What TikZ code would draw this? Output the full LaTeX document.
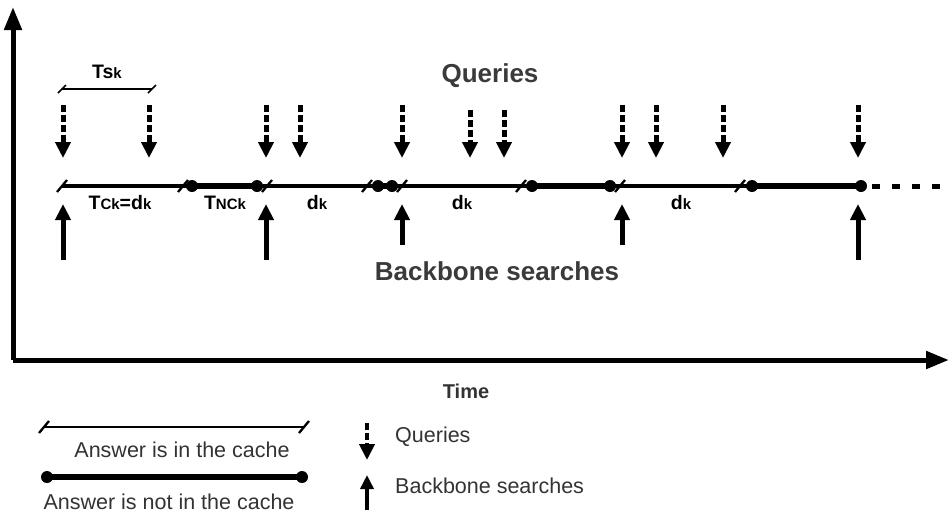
\documentclass[tikz,border=0pt]{standalone}
\usepackage{fontspec}
\setmainfont{Liberation Sans}
\usetikzlibrary{arrows.meta}
\definecolor{headgray}{HTML}{3A3A3A}
\definecolor{txtgray}{HTML}{333333}
\newcommand{\bigf}{\fontsize{19.5}{19.5}\selectfont}
\newcommand{\smf}{\fontsize{15}{15}\selectfont}
\tikzset{
  thinseg/.style={line width=3.4pt},
  thickseg/.style={line width=6pt},
  dotm/.style={circle,fill=black,inner sep=0pt,minimum size=12pt},
  qarrow/.style={line width=5pt, dash pattern=on 7pt off 3pt, -{Triangle[width=15pt,length=16pt]}},
  barrow/.style={line width=5pt, -{Triangle[width=15pt,length=16pt]}},
  axisarrow/.style={line width=5pt, -{Triangle[width=17pt,length=23pt]}},
  lbl/.style={font=\bfseries\bigf, anchor=base, inner sep=0pt},
  heading/.style={font=\bfseries\fontsize{26}{26}\selectfont, text=headgray, anchor=base, inner sep=0pt},
  legtext/.style={font=\fontsize{21.5}{21.5}\selectfont, text=txtgray, inner sep=0pt},
  brkmark/.pic={\draw[line width=2.3pt] (-5,6) -- (5,-6);},
  smallbrk/.pic={\draw[line width=1.5pt] (-4,4) -- (4,-4);},
}
\begin{document}
\begin{tikzpicture}[x=1pt,y=-1pt]
\useasboundingbox (0,0) rectangle (949,512);

% axes
\coordinate (origin) at (13,360);
\coordinate (ytip) at (13,7);
\coordinate (xtip) at (949,360);
\draw[axisarrow] (origin) -- (ytip);
\draw[axisarrow] (origin) -- (xtip);

% timeline points
\coordinate (s1) at (62,186);
\coordinate (s2) at (183,186);
\node[dotm] (d1) at (192,186) {};
\node[dotm] (d2) at (257,186) {};
\coordinate (s3) at (267,186);
\coordinate (s4) at (367,186);
\node[dotm] (d3) at (378,186) {};
\node[dotm] (d4) at (392,186) {};
\coordinate (s5) at (402,186);
\coordinate (s6) at (521,186);
\node[dotm] (d5) at (532,186) {};
\node[dotm] (d6) at (610,186) {};
\coordinate (s7) at (620,186);
\coordinate (s8) at (740,186);
\node[dotm] (d7) at (752,186) {};
\node[dotm] (d8) at (861,186) {};
\coordinate (dend) at (942,186);

\draw[thinseg] (s1) -- (d1.center);
\draw[thickseg] (d1.center) -- (d2.center);
\draw[thinseg] (d2.center) -- (d3.center);
\draw[thickseg] (d3.center) -- (d4.center);
\draw[thinseg] (d4.center) -- (d5.center);
\draw[thickseg] (d5.center) -- (d6.center);
\draw[thinseg] (d6.center) -- (d7.center);
\draw[thickseg] (d7.center) -- (d8.center);
\draw[line width=5pt, dash pattern=on 8pt off 12pt] ([xshift=11pt]d8.center) -- (dend);

\foreach \p in {s1,s2,s3,s4,s5,s6,s7,s8} \pic at (\p) {brkmark};

% Ts bracket
\coordinate (tsa) at (62,89);
\coordinate (tsb) at (152,89);
\draw[line width=1.5pt] (tsa) -- (tsb);
\pic at (tsa) {smallbrk};
\pic at (tsb) {smallbrk};
\node[lbl] (tslbl) at (107,78) {Ts{\smf k}};

% timeline labels
\node[lbl] (l1) at (120,209) {T{\smf Ck}=d{\smf k}};
\node[lbl] (l2) at (225,209) {T{\smf NCk}};
\node[lbl] (l3) at (317,209) {d{\smf k}};
\node[lbl] (l4) at (462,209) {d{\smf k}};
\node[lbl] (l5) at (681,209) {d{\smf k}};

% query arrows
\foreach \x/\t in {63/105,149/105,266/105,300/105,402/105,470/110,504/110,622/105,656/105,723/105,858/105}{
  \coordinate (qa\x) at (\x,\t);
  \coordinate (qb\x) at (\x,158);
  \draw[qarrow] (qa\x) -- (qb\x);
}

% backbone arrows
\foreach \x/\b in {63/260,266/260,402/245,622/245,858/260}{
  \coordinate (ba\x) at (\x,\b);
  \coordinate (bb\x) at (\x,204);
  \draw[barrow] (ba\x) -- (bb\x);
}

% headings
\node[heading] (hq) at (490,82) {Queries};
\node[heading] (hb) at (497,280) {Backbone searches};
\node[font=\bfseries\fontsize{20}{20}\selectfont, text=txtgray, anchor=base, inner sep=0pt] (time) at (466,398) {Time};

% legend left
\coordinate (la) at (44,427);
\coordinate (lb) at (304,427);
\draw[line width=2pt] (la) -- (lb);
\pic at (la) {brkmark};
\pic at (lb) {brkmark};
\node[legtext, anchor=base] (t1) at (182,457) {Answer is in the cache};
\node[dotm] (le1) at (47,477) {};
\node[dotm] (le2) at (302,477) {};
\draw[line width=6.5pt] (le1.center) -- (le2.center);
\node[legtext, anchor=base] (t2) at (169,509) {Answer is not in the cache};

% legend right
\coordinate (lq1) at (367,423);
\coordinate (lq2) at (367,460);
\draw[qarrow, line width=4.5pt] (lq1) -- (lq2);
\node[legtext, anchor=base west] (t3) at (395,442) {Queries};
\coordinate (lbk1) at (367,510);
\coordinate (lbk2) at (367,475);
\draw[line width=4pt, -{Triangle[width=13pt,length=14pt]}] (lbk1) -- (lbk2);
\node[legtext, anchor=base west] (t4) at (395,493) {Backbone searches};
\end{tikzpicture}
\end{document}
